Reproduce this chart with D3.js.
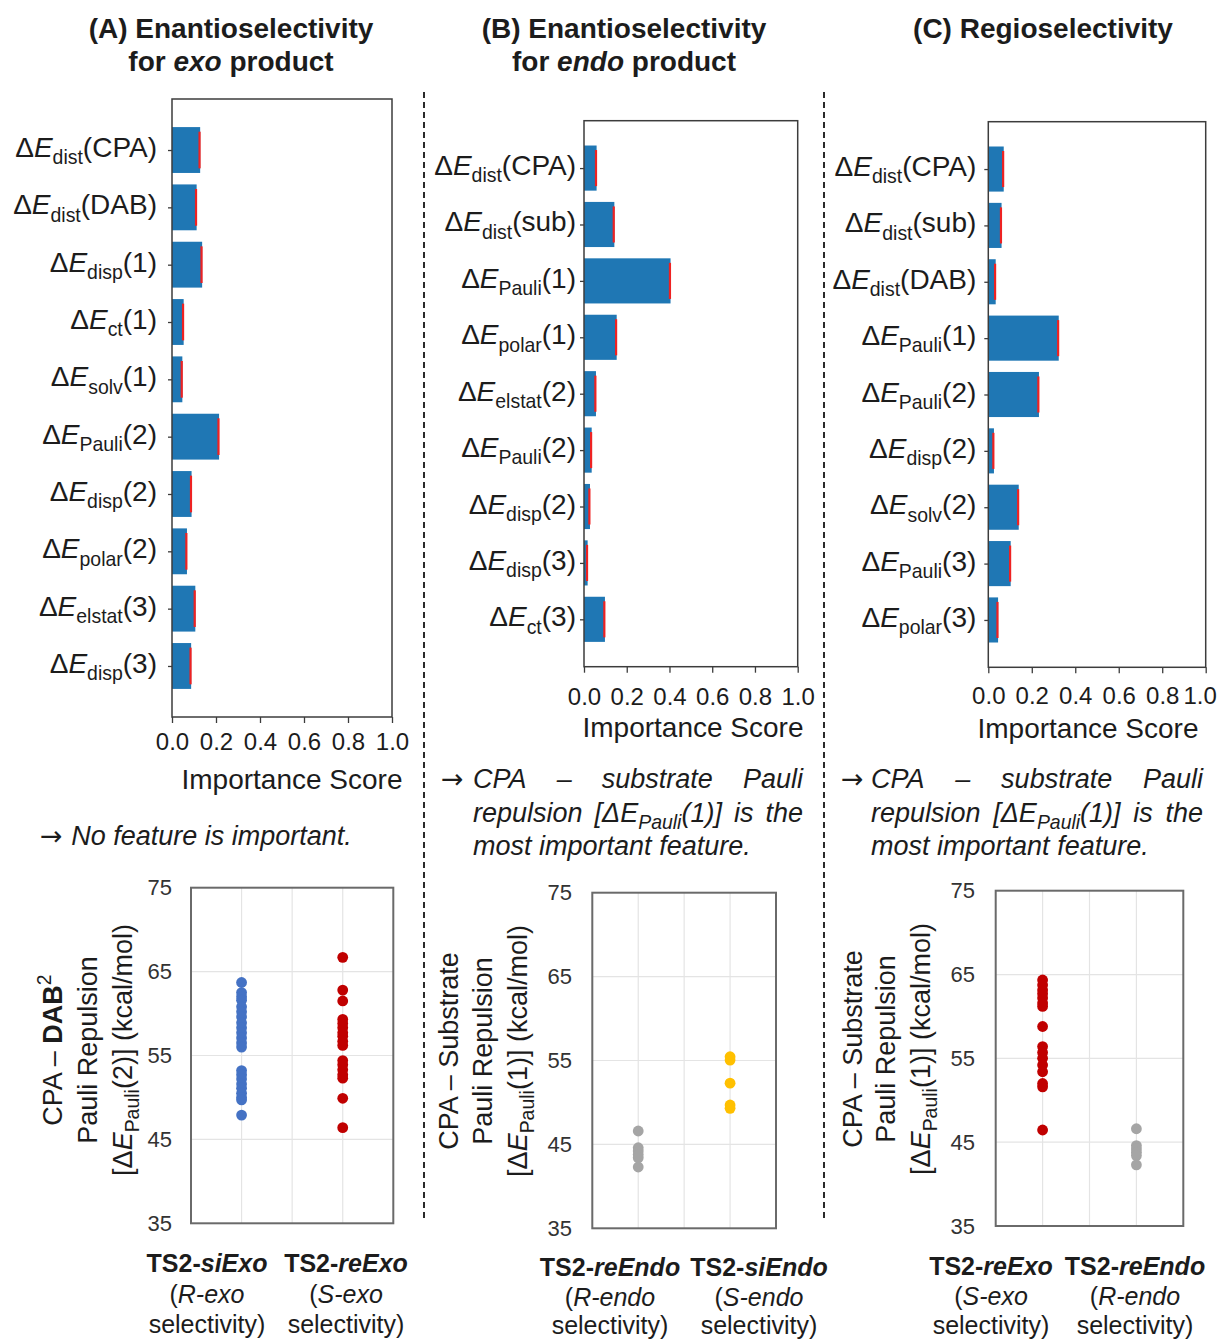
<!DOCTYPE html>
<html>
<head>
<meta charset="utf-8">
<script src="https://cdn.jsdelivr.net/npm/d3@7"></script>
<style>
  body { margin: 0; background: #fff; }
  svg { display: block; }
</style>
</head>
<body>
<svg id="fig" width="1218" height="1341"></svg>
<script>
// ---------------- data ----------------
// Energy-decomposition features: [subscript, fragment]
const featA = [["dist","CPA"],["dist","DAB"],["disp","1"],["ct","1"],["solv","1"],["Pauli","2"],["disp","2"],["polar","2"],["elstat","3"],["disp","3"]];
const scoreA = [0.128, 0.112, 0.137, 0.053, 0.047, 0.214, 0.089, 0.068, 0.106, 0.087];

const featB = [["dist","CPA"],["dist","sub"],["Pauli","1"],["polar","1"],["elstat","2"],["Pauli","2"],["disp","2"],["disp","3"],["ct","3"]];
const scoreB = [0.059, 0.142, 0.405, 0.153, 0.056, 0.036, 0.028, 0.017, 0.098];

const featC = [["dist","CPA"],["dist","sub"],["dist","DAB"],["Pauli","1"],["Pauli","2"],["disp","2"],["solv","2"],["Pauli","3"],["polar","3"]];
const scoreC = [0.071, 0.061, 0.034, 0.324, 0.233, 0.026, 0.140, 0.103, 0.045];

const scoreTicks = [0, 0.2, 0.4, 0.6, 0.8, 1.0];
const pauliTicks = [35, 45, 55, 65, 75];

// Pauli repulsion of each transition-state conformer (kcal/mol)
const siExoDab = [63.7, 62.5, 62.0, 61.6, 60.8, 60.2, 59.6, 58.9, 58.3, 57.7, 57.1, 56.5, 56.0, 53.2, 52.7, 52.2, 51.6, 51.1, 50.5, 50.0, 49.7, 47.9];
const reExoDab = [66.7, 62.8, 61.5, 59.3, 58.8, 58.3, 57.7, 57.3, 56.7, 56.2, 54.4, 53.9, 53.3, 52.7, 52.3, 49.9, 46.4];
const reEndoSub = [46.6, 44.6, 44.2, 43.8, 43.4, 42.3];
const siEndoSub = [55.45, 55.05, 52.3, 49.7, 49.3];
const reExoSub = [64.35, 63.75, 63.15, 62.7, 62.2, 61.6, 61.2, 58.8, 56.4, 55.7, 55.0, 54.2, 53.4, 52.0, 51.6, 46.45];

const tsA = ["siExo", "reExo"], selA = ["R-exo", "S-exo"];
const tsB = ["reEndo", "siEndo"], selB = ["R-endo", "S-endo"];
const tsC = ["reExo", "reEndo"], selC = ["S-exo", "R-endo"];

// ---------------- helpers ----------------
const FONT = "'Liberation Sans', Arial, Helvetica, sans-serif";
const ARROW_FONT = "'DejaVu Sans', 'Liberation Sans', sans-serif";
const INK = "#1c1c1c";
const svg = d3.select("#fig").attr("font-family", FONT).style("font-family", FONT);

// Append styled tspans (italic / bold / sub / sup) to a text element
function addRich(text, segs, size) {
  let shift = 0;
  segs.forEach(s => {
    const sp = text.append("tspan").text(s.t);
    if (s.i) sp.attr("font-style", "italic");
    if (s.b) sp.attr("font-weight", "bold");
    if (s.f) sp.attr("font-family", s.f);
    const target = s.sub ? size * 0.27 : s.sup ? -size * 0.4 : 0;
    if (target !== shift) { sp.attr("dy", target - shift); shift = target; }
    if (s.sub || s.sup) sp.attr("font-size", size * 0.72);
  });
  return text;
}

function featureSegs(f) {
  return [{t: "Δ"}, {t: "E", i: 1}, {t: f[0], sub: 1}, {t: `(${f[1]})`}];
}

// Horizontal importance-score bar chart
function barPanel(cfg) {
  const {frame, feats, scores, labelGap, tickPad, title, lastShift} = cfg;
  const n = feats.length;
  const m = 0.4 + 0.05 * (n - 1 + 0.8);
  const x = d3.scaleLinear().domain([0, 1]).range([frame.l, frame.r]);
  const y = d3.scaleLinear().domain([-m, n - 1 + m]).range([frame.t, frame.b]);
  const g = svg.append("g");
  const bh = y(0.4) - y(-0.4);

  g.selectAll("rect.bar").data(scores).join("rect").attr("class", "bar")
    .attr("x", x(0)).attr("y", (d, i) => y(i) - bh / 2)
    .attr("width", d => x(d) - x(0)).attr("height", bh)
    .attr("fill", "#1f77b4");
  g.selectAll("line.err").data(scores).join("line").attr("class", "err")
    .attr("x1", d => x(d) - 0.6).attr("x2", d => x(d) - 0.6)
    .attr("y1", (d, i) => y(i) - bh * 0.4).attr("y2", (d, i) => y(i) + bh * 0.4)
    .attr("stroke", "#ee2222").attr("stroke-width", 2.2);

  g.append("rect").attr("x", frame.l).attr("y", frame.t)
    .attr("width", frame.r - frame.l).attr("height", frame.b - frame.t)
    .attr("fill", "none").attr("stroke", "#3c3c3c").attr("stroke-width", 1.5);

  const xa = g.append("g").attr("transform", `translate(0,${frame.b})`)
    .call(d3.axisBottom(x).tickValues(scoreTicks).tickFormat(d3.format(".1f")).tickSize(6).tickPadding(tickPad));
  xa.select(".domain").remove();
  xa.selectAll("line").attr("stroke", "#3c3c3c").attr("stroke-width", 1.3);
  xa.selectAll("text").attr("font-size", 24).attr("fill", INK).attr("font-family", FONT)
    .attr("dx", d => (d === 1 && lastShift) ? -lastShift : 0);

  const ya = g.append("g").attr("transform", `translate(${frame.l},0)`)
    .call(d3.axisLeft(y).tickValues(d3.range(n)).tickFormat("").tickSize(4));
  ya.select(".domain").remove();
  ya.selectAll("line").attr("stroke", "#3c3c3c").attr("stroke-width", 1.3);

  feats.forEach((f, i) => {
    const t = g.append("text").attr("x", frame.l - labelGap).attr("y", y(i) + 7)
      .attr("text-anchor", "end").attr("font-size", 28).attr("fill", INK);
    addRich(t, featureSegs(f), 27);
  });

  g.append("text").attr("x", title.x).attr("y", title.y).attr("text-anchor", "middle")
    .attr("font-size", 28).attr("fill", INK).text("Importance Score");
}

// Pauli-repulsion strip plot for two transition-state families
function scatterPanel(cfg) {
  const {frame, series, tickRight, ylab, cats} = cfg;
  const x = d3.scaleLinear().domain([0, 4]).range([frame.l, frame.r]);
  const y = d3.scaleLinear().domain([35, 75]).range([frame.b, frame.t]);
  const g = svg.append("g");

  g.selectAll("line.hg").data([45, 55, 65]).join("line").attr("class", "hg")
    .attr("x1", frame.l).attr("x2", frame.r).attr("y1", d => y(d)).attr("y2", d => y(d))
    .attr("stroke", "#e4e4e4").attr("stroke-width", 1.2);
  g.selectAll("line.vg").data([1, 2, 3]).join("line").attr("class", "vg")
    .attr("y1", frame.t).attr("y2", frame.b).attr("x1", d => x(d)).attr("x2", d => x(d))
    .attr("stroke", "#e4e4e4").attr("stroke-width", 1.2);

  g.append("rect").attr("x", frame.l).attr("y", frame.t)
    .attr("width", frame.r - frame.l).attr("height", frame.b - frame.t)
    .attr("fill", "none").attr("stroke", "#6a6a6a").attr("stroke-width", 2);

  const ya = g.append("g").attr("transform", `translate(${frame.l},0)`)
    .call(d3.axisLeft(y).tickValues(pauliTicks).tickSize(0).tickPadding(frame.l - tickRight));
  ya.select(".domain").remove();
  ya.selectAll("text").attr("font-size", 22).attr("fill", "#333").attr("font-family", FONT);

  series.forEach(s => {
    g.append("g").selectAll("circle").data(s.values).join("circle")
      .attr("cx", x(s.pos)).attr("cy", d => y(d)).attr("r", 5.4)
      .attr("fill", s.color);
  });

  ylab.lines.forEach((segs, k) => {
    const t = g.append("text")
      .attr("transform", `translate(${ylab.xs[k]},${ylab.cy}) rotate(-90)`)
      .attr("text-anchor", "middle").attr("font-size", 27).attr("fill", INK);
    addRich(t, segs, 27);
  });

  cats.names.forEach((nm, k) => {
    const cx = cats.xs[k];
    const t1 = g.append("text").attr("x", cx).attr("y", cats.ys[0]).attr("text-anchor", "middle")
      .attr("font-size", 25).attr("font-weight", "bold").attr("fill", INK);
    addRich(t1, [{t: "TS2-"}, {t: nm, i: 1}], 25);
    const t2 = g.append("text").attr("x", cx).attr("y", cats.ys[1]).attr("text-anchor", "middle")
      .attr("font-size", 25).attr("fill", INK);
    addRich(t2, [{t: "("}, {t: cats.sel[k], i: 1}], 25);
    g.append("text").attr("x", cx).attr("y", cats.ys[2]).attr("text-anchor", "middle")
      .attr("font-size", 25).attr("fill", INK).text("selectivity)");
  });
}

// A row of words spread evenly between x0 and x1
function justifiedLine(words, x0, x1, yb, size, justify) {
  const nodes = words.map(w => {
    const t = svg.append("text").attr("y", yb).attr("font-size", size)
      .attr("font-style", "italic").attr("fill", INK);
    const segs = typeof w === "string" ? [{t: w, i: 1}] : w;
    addRich(t, segs, size);
    return t;
  });
  const widths = nodes.map(t => t.node().getComputedTextLength());
  const total = d3.sum(widths);
  const gap = justify && nodes.length > 1 ? (x1 - x0 - total) / (nodes.length - 1) : size * 0.28;
  let cx = x0;
  nodes.forEach((t, k) => { t.attr("x", cx); cx += widths[k] + gap; });
}

function note(arrowX, x0, x1, ys) {
  svg.append("text").attr("x", arrowX).attr("y", ys[0]).attr("font-size", 27)
    .attr("font-family", ARROW_FONT).attr("fill", INK).text("→");
  justifiedLine(["CPA", "–", "substrate", "Pauli"], x0, x1, ys[0], 27, true);
  justifiedLine(["repulsion",
    [{t: "[Δ", i: 1}, {t: "E", i: 1}, {t: "Pauli", i: 1, sub: 1}, {t: "(1)]", i: 1}],
    "is", "the"], x0, x1, ys[1], 27, true);
  justifiedLine(["most", "important", "feature."], x0, x1, ys[2], 27, false);
}

// ---------------- titles ----------------
function title(cx, lines) {
  lines.forEach((segs, k) => {
    const t = svg.append("text").attr("x", cx).attr("y", 38 + k * 33)
      .attr("text-anchor", "middle").attr("font-size", 28).attr("font-weight", "bold").attr("fill", INK);
    addRich(t, segs, 28);
  });
}
title(231, [[{t: "(A) Enantioselectivity"}], [{t: "for "}, {t: "exo", i: 1}, {t: " product"}]]);
title(624, [[{t: "(B) Enantioselectivity"}], [{t: "for "}, {t: "endo", i: 1}, {t: " product"}]]);
title(1043, [[{t: "(C) Regioselectivity"}]]);

// ---------------- separators ----------------
[[424, 92, 1220], [824, 92, 1222]].forEach(([x, y0, y1]) => {
  svg.append("line").attr("x1", x).attr("x2", x).attr("y1", y0).attr("y2", y1)
    .attr("stroke", "#2a2a2a").attr("stroke-width", 2).attr("stroke-dasharray", "6,4");
});

// ---------------- bar charts ----------------
barPanel({frame: {l: 172, t: 99, r: 392, b: 717}, feats: featA, scores: scoreA,
  labelGap: 15, tickPad: 10, title: {x: 292, y: 789}});
barPanel({frame: {l: 584, t: 120.7, r: 797.7, b: 666.7}, feats: featB, scores: scoreB,
  labelGap: 8, tickPad: 15, title: {x: 693, y: 737}});
barPanel({frame: {l: 988.3, t: 121.7, r: 1205.7, b: 667.3}, feats: featC, scores: scoreC,
  labelGap: 12, tickPad: 14, title: {x: 1088, y: 738}, lastShift: 6});

// ---------------- conclusions ----------------
svg.append("text").attr("x", 40).attr("y", 845).attr("font-size", 27).attr("fill", INK)
  .call(t => addRich(t, [{t: "→ ", f: ARROW_FONT}, {t: "No feature is important.", i: 1}], 27));
note(441, 473, 803, [788, 822, 855]);
note(841, 871, 1203, [788, 822, 855]);

// ---------------- strip plots ----------------
const BLUE = "#4472c4", RED = "#c00000", GREY = "#a5a5a5", GOLD = "#ffc000";
const pauliLabel = n => [{t: "[Δ"}, {t: "E", i: 1}, {t: "Pauli", sub: 1}, {t: `(${n})] (kcal/mol)`}];

scatterPanel({
  frame: {l: 191, t: 887.7, r: 393.3, b: 1223.3}, tickRight: 172,
  series: [{values: siExoDab, pos: 1, color: BLUE}, {values: reExoDab, pos: 3, color: RED}],
  ylab: {cy: 1050, xs: [62, 96.5, 131.5], lines: [
    [{t: "CPA – "}, {t: "DAB", b: 1}, {t: "2", sup: 1}],
    [{t: "Pauli Repulsion"}],
    pauliLabel(2)]},
  cats: {names: tsA, sel: selA, xs: [207, 346], ys: [1272, 1303, 1333]}
});
scatterPanel({
  frame: {l: 592.3, t: 892.7, r: 776, b: 1228.3}, tickRight: 572,
  series: [{values: reEndoSub, pos: 1, color: GREY}, {values: siEndoSub, pos: 3, color: GOLD}],
  ylab: {cy: 1051, xs: [458, 492, 526.5], lines: [
    [{t: "CPA – Substrate"}],
    [{t: "Pauli Repulsion"}],
    pauliLabel(1)]},
  cats: {names: tsB, sel: selB, xs: [610, 759], ys: [1276, 1306, 1334]}
});
scatterPanel({
  frame: {l: 995.7, t: 890.7, r: 1183.3, b: 1226}, tickRight: 975,
  series: [{values: reExoSub, pos: 1, color: RED}, {values: reEndoSub, pos: 3, color: GREY}],
  ylab: {cy: 1049, xs: [861.5, 895, 930], lines: [
    [{t: "CPA – Substrate"}],
    [{t: "Pauli Repulsion"}],
    pauliLabel(1)]},
  cats: {names: tsC, sel: selC, xs: [991, 1135], ys: [1275, 1305, 1334]}
});
</script>
</body>
</html>
